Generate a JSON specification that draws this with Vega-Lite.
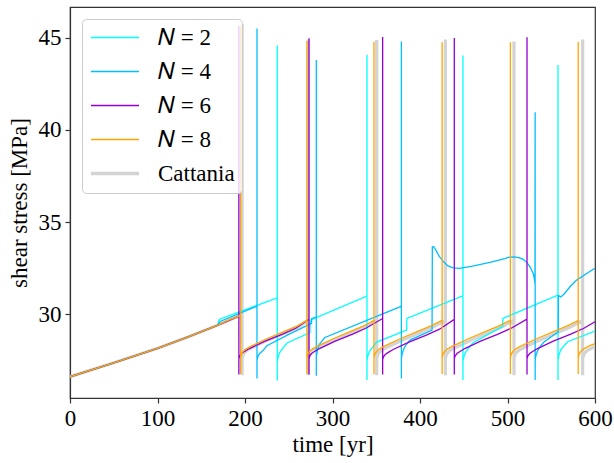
{
  "$schema": "https://vega.github.io/schema/vega-lite/v6.json",
  "width": 525,
  "height": 391,
  "autosize": {"type": "none"},
  "padding": {"left": 70, "top": 7, "right": 19, "bottom": 65},
  "config": {
    "view": {"stroke": "#333333", "strokeWidth": 1.2},
    "axis": {"domainColor": "#333333", "tickColor": "#333333", "labelFont": "Liberation Serif", "labelFontSize": 23, "titleFont": "Liberation Serif", "titleFontSize": 23, "titleFontWeight": "normal", "labelColor": "black", "titleColor": "black", "grid": false, "tickSize": 5, "domainWidth": 1.2, "tickWidth": 1.2}
  },
  "data": {"values": [
    {"s":"Cattania","t":0,"v":26.62},{"s":"Cattania","t":50,"v":27.38},{"s":"Cattania","t":100,"v":28.16},{"s":"Cattania","t":135,"v":28.78},{"s":"Cattania","t":169,"v":29.42},{"s":"Cattania","t":182,"v":29.7},{"s":"Cattania","t":196.7,"v":29.98},
    {"s":"Cattania","t":196.7,"v":45.74},{"s":"Cattania","t":196.7,"v":26.7},{"s":"Cattania","t":196.7,"v":27.6},
    {"s":"Cattania","t":197.7,"v":27.8},{"s":"Cattania","t":199.7,"v":27.95},{"s":"Cattania","t":202.7,"v":28.07},{"s":"Cattania","t":208.7,"v":28.22},{"s":"Cattania","t":226.7,"v":28.62},{"s":"Cattania","t":246.7,"v":29.02},{"s":"Cattania","t":261.7,"v":29.33},{"s":"Cattania","t":272.3,"v":29.68},
    {"s":"Cattania","t":272.3,"v":44.9},{"s":"Cattania","t":272.3,"v":26.7},{"s":"Cattania","t":272.3,"v":27.6},
    {"s":"Cattania","t":273.3,"v":27.8},{"s":"Cattania","t":275.3,"v":27.95},{"s":"Cattania","t":278.3,"v":28.07},{"s":"Cattania","t":284.3,"v":28.22},{"s":"Cattania","t":302.3,"v":28.62},{"s":"Cattania","t":322.3,"v":29.02},{"s":"Cattania","t":337.3,"v":29.33},{"s":"Cattania","t":350.5,"v":29.68},
    {"s":"Cattania","t":350.5,"v":44.87},{"s":"Cattania","t":350.5,"v":26.7},{"s":"Cattania","t":350.5,"v":27.6},
    {"s":"Cattania","t":351.5,"v":27.8},{"s":"Cattania","t":353.5,"v":27.95},{"s":"Cattania","t":356.5,"v":28.07},{"s":"Cattania","t":362.5,"v":28.22},{"s":"Cattania","t":380.5,"v":28.62},{"s":"Cattania","t":400.5,"v":29.02},{"s":"Cattania","t":415.5,"v":29.33},{"s":"Cattania","t":429,"v":29.68},
    {"s":"Cattania","t":429,"v":44.9},{"s":"Cattania","t":429,"v":26.7},{"s":"Cattania","t":429,"v":27.6},
    {"s":"Cattania","t":430,"v":27.8},{"s":"Cattania","t":432,"v":27.95},{"s":"Cattania","t":435,"v":28.07},{"s":"Cattania","t":441,"v":28.22},{"s":"Cattania","t":459,"v":28.62},{"s":"Cattania","t":479,"v":29.02},{"s":"Cattania","t":494,"v":29.33},{"s":"Cattania","t":507.4,"v":29.68},
    {"s":"Cattania","t":507.4,"v":44.79},{"s":"Cattania","t":507.4,"v":26.7},{"s":"Cattania","t":507.4,"v":27.6},
    {"s":"Cattania","t":508.4,"v":27.8},{"s":"Cattania","t":510.4,"v":27.95},{"s":"Cattania","t":513.4,"v":28.07},{"s":"Cattania","t":519.4,"v":28.22},{"s":"Cattania","t":537.4,"v":28.62},{"s":"Cattania","t":557.4,"v":29.02},{"s":"Cattania","t":572.4,"v":29.33},{"s":"Cattania","t":585.9,"v":29.68},
    {"s":"Cattania","t":585.9,"v":44.9},{"s":"Cattania","t":585.9,"v":26.7},{"s":"Cattania","t":585.9,"v":27.6},
    {"s":"Cattania","t":586.9,"v":27.8},{"s":"Cattania","t":588.9,"v":27.95},{"s":"Cattania","t":591.9,"v":28.07},{"s":"Cattania","t":597.9,"v":28.22},{"s":"Cattania","t":600,"v":28.26},

    {"s":"N = 2","t":0,"v":26.62},{"s":"N = 2","t":50,"v":27.38},{"s":"N = 2","t":100,"v":28.16},{"s":"N = 2","t":135,"v":28.78},{"s":"N = 2","t":169,"v":29.42},{"s":"N = 2","t":170,"v":29.66},{"s":"N = 2","t":171,"v":29.74},{"s":"N = 2","t":236.9,"v":30.9},
    {"s":"N = 2","t":236.9,"v":44.57},{"s":"N = 2","t":236.9,"v":26.42},{"s":"N = 2","t":236.9,"v":27.45},
    {"s":"N = 2","t":237.9,"v":27.7},{"s":"N = 2","t":239.9,"v":27.95},{"s":"N = 2","t":242.9,"v":28.15},{"s":"N = 2","t":248,"v":28.45},{"s":"N = 2","t":274.3,"v":29.02},{"s":"N = 2","t":274.5,"v":29.69},{"s":"N = 2","t":339.4,"v":30.99},
    {"s":"N = 2","t":339.4,"v":44.06},{"s":"N = 2","t":339.4,"v":26.44},{"s":"N = 2","t":339.4,"v":27.5},
    {"s":"N = 2","t":340.4,"v":27.75},{"s":"N = 2","t":342.4,"v":28.0},{"s":"N = 2","t":345.4,"v":28.2},{"s":"N = 2","t":350.5,"v":28.5},{"s":"N = 2","t":384.8,"v":29.15},{"s":"N = 2","t":385,"v":29.78},{"s":"N = 2","t":449.1,"v":31.01},
    {"s":"N = 2","t":449.1,"v":44.03},{"s":"N = 2","t":449.1,"v":26.44},{"s":"N = 2","t":449.1,"v":27.45},
    {"s":"N = 2","t":450.1,"v":27.7},{"s":"N = 2","t":452.1,"v":27.95},{"s":"N = 2","t":455.1,"v":28.15},{"s":"N = 2","t":460.2,"v":28.45},{"s":"N = 2","t":494.5,"v":29.35},{"s":"N = 2","t":494.7,"v":29.78},{"s":"N = 2","t":557.7,"v":31.05},
    {"s":"N = 2","t":557.7,"v":43.52},{"s":"N = 2","t":557.7,"v":26.44},{"s":"N = 2","t":557.7,"v":27.5},
    {"s":"N = 2","t":558.7,"v":27.8},{"s":"N = 2","t":560.7,"v":28.05},{"s":"N = 2","t":563.7,"v":28.25},{"s":"N = 2","t":568.7,"v":28.52},{"s":"N = 2","t":600,"v":29.1},

    {"s":"N = 4","t":0,"v":26.62},{"s":"N = 4","t":50,"v":27.38},{"s":"N = 4","t":100,"v":28.16},{"s":"N = 4","t":135,"v":28.78},{"s":"N = 4","t":169,"v":29.42},{"s":"N = 4","t":171.5,"v":29.62},{"s":"N = 4","t":213.7,"v":30.45},
    {"s":"N = 4","t":213.7,"v":45.5},{"s":"N = 4","t":213.7,"v":26.53},{"s":"N = 4","t":213.7,"v":27.52},
    {"s":"N = 4","t":214.7,"v":27.72},{"s":"N = 4","t":216.7,"v":27.88},{"s":"N = 4","t":219.7,"v":28.0},{"s":"N = 4","t":225,"v":28.3},{"s":"N = 4","t":250,"v":28.92},{"s":"N = 4","t":276,"v":29.51},{"s":"N = 4","t":276.3,"v":29.78},{"s":"N = 4","t":281.5,"v":29.86},
    {"s":"N = 4","t":281.5,"v":43.79},{"s":"N = 4","t":281.5,"v":26.67},{"s":"N = 4","t":281.5,"v":27.7},
    {"s":"N = 4","t":282.5,"v":28.0},{"s":"N = 4","t":284.5,"v":28.35},{"s":"N = 4","t":287,"v":28.5},{"s":"N = 4","t":291.4,"v":28.75},{"s":"N = 4","t":377,"v":30.41},{"s":"N = 4","t":378.7,"v":30.45},
    {"s":"N = 4","t":378.7,"v":44.79},{"s":"N = 4","t":378.7,"v":26.53},{"s":"N = 4","t":378.7,"v":27.6},
    {"s":"N = 4","t":379.7,"v":27.9},{"s":"N = 4","t":381.7,"v":28.15},{"s":"N = 4","t":384,"v":28.35},{"s":"N = 4","t":388.6,"v":28.61},{"s":"N = 4","t":413.8,"v":29.15},
    {"s":"N = 4","t":414.1,"v":33.66},{"s":"N = 4","t":415.5,"v":33.68},{"s":"N = 4","t":418,"v":33.5},{"s":"N = 4","t":422,"v":33.15},{"s":"N = 4","t":427,"v":32.85},{"s":"N = 4","t":432,"v":32.63},{"s":"N = 4","t":438,"v":32.52},{"s":"N = 4","t":445,"v":32.49},{"s":"N = 4","t":460,"v":32.62},{"s":"N = 4","t":480,"v":32.82},{"s":"N = 4","t":497,"v":33.02},{"s":"N = 4","t":502,"v":33.1},{"s":"N = 4","t":507,"v":33.12},{"s":"N = 4","t":513,"v":33.08},{"s":"N = 4","t":518,"v":32.98},{"s":"N = 4","t":522,"v":32.82},{"s":"N = 4","t":525.7,"v":32.58},{"s":"N = 4","t":528,"v":32.35},{"s":"N = 4","t":529.5,"v":32.2},{"s":"N = 4","t":530.6,"v":31.95},{"s":"N = 4","t":531.4,"v":31.68},
    {"s":"N = 4","t":531.6,"v":40.96},{"s":"N = 4","t":531.6,"v":26.44},{"s":"N = 4","t":531.6,"v":27.52},
    {"s":"N = 4","t":532.6,"v":27.8},{"s":"N = 4","t":534.6,"v":28.05},{"s":"N = 4","t":537,"v":28.24},{"s":"N = 4","t":541.7,"v":28.5},{"s":"N = 4","t":558,"v":29.06},
    {"s":"N = 4","t":558.2,"v":31.02},{"s":"N = 4","t":561,"v":30.95},{"s":"N = 4","t":565,"v":31.12},{"s":"N = 4","t":571.4,"v":31.5},{"s":"N = 4","t":579,"v":31.86},{"s":"N = 4","t":590,"v":32.2},{"s":"N = 4","t":600,"v":32.5},

    {"s":"N = 6","t":0,"v":26.62},{"s":"N = 6","t":50,"v":27.38},{"s":"N = 6","t":100,"v":28.16},{"s":"N = 6","t":135,"v":28.78},{"s":"N = 6","t":169,"v":29.42},{"s":"N = 6","t":182,"v":29.68},{"s":"N = 6","t":193,"v":29.91},
    {"s":"N = 6","t":193,"v":45.63},{"s":"N = 6","t":193,"v":26.74},{"s":"N = 6","t":193,"v":27.6},
    {"s":"N = 6","t":194,"v":27.75},{"s":"N = 6","t":196,"v":27.88},{"s":"N = 6","t":199,"v":27.98},{"s":"N = 6","t":205,"v":28.15},{"s":"N = 6","t":223,"v":28.55},{"s":"N = 6","t":243,"v":28.93},{"s":"N = 6","t":258,"v":29.25},{"s":"N = 6","t":273.1,"v":29.74},
    {"s":"N = 6","t":273.1,"v":44.97},{"s":"N = 6","t":273.1,"v":26.74},{"s":"N = 6","t":273.1,"v":27.6},
    {"s":"N = 6","t":274.1,"v":27.75},{"s":"N = 6","t":276.1,"v":27.88},{"s":"N = 6","t":279.1,"v":27.98},{"s":"N = 6","t":285.1,"v":28.15},{"s":"N = 6","t":303.1,"v":28.55},{"s":"N = 6","t":323.1,"v":28.93},{"s":"N = 6","t":338.1,"v":29.25},{"s":"N = 6","t":357.3,"v":29.78},
    {"s":"N = 6","t":357.3,"v":45.04},{"s":"N = 6","t":357.3,"v":26.74},{"s":"N = 6","t":357.3,"v":27.55},
    {"s":"N = 6","t":358.3,"v":27.7},{"s":"N = 6","t":360.3,"v":27.83},{"s":"N = 6","t":363.3,"v":27.93},{"s":"N = 6","t":369.3,"v":28.1},{"s":"N = 6","t":387.3,"v":28.5},{"s":"N = 6","t":407.3,"v":28.88},{"s":"N = 6","t":422.3,"v":29.2},{"s":"N = 6","t":439.2,"v":29.73},
    {"s":"N = 6","t":439.2,"v":44.98},{"s":"N = 6","t":439.2,"v":26.74},{"s":"N = 6","t":439.2,"v":27.6},
    {"s":"N = 6","t":440.2,"v":27.75},{"s":"N = 6","t":442.2,"v":27.88},{"s":"N = 6","t":445.2,"v":27.98},{"s":"N = 6","t":451.2,"v":28.15},{"s":"N = 6","t":469.2,"v":28.55},{"s":"N = 6","t":489.2,"v":28.93},{"s":"N = 6","t":504.2,"v":29.25},{"s":"N = 6","t":522.3,"v":29.75},
    {"s":"N = 6","t":522.3,"v":45.02},{"s":"N = 6","t":522.3,"v":26.74},{"s":"N = 6","t":522.3,"v":27.6},
    {"s":"N = 6","t":523.3,"v":27.75},{"s":"N = 6","t":525.3,"v":27.88},{"s":"N = 6","t":528.3,"v":27.98},{"s":"N = 6","t":534.3,"v":28.15},{"s":"N = 6","t":552.3,"v":28.55},{"s":"N = 6","t":572.3,"v":28.93},{"s":"N = 6","t":587.3,"v":29.25},{"s":"N = 6","t":600,"v":29.6},

    {"s":"N = 8","t":0,"v":26.62},{"s":"N = 8","t":50,"v":27.38},{"s":"N = 8","t":100,"v":28.16},{"s":"N = 8","t":135,"v":28.78},{"s":"N = 8","t":169,"v":29.42},{"s":"N = 8","t":182,"v":29.7},{"s":"N = 8","t":195,"v":29.95},
    {"s":"N = 8","t":195,"v":45.6},{"s":"N = 8","t":195,"v":26.77},{"s":"N = 8","t":195,"v":27.65},
    {"s":"N = 8","t":196,"v":27.85},{"s":"N = 8","t":198,"v":28.0},{"s":"N = 8","t":201,"v":28.12},{"s":"N = 8","t":207,"v":28.28},{"s":"N = 8","t":225,"v":28.68},{"s":"N = 8","t":245,"v":29.08},{"s":"N = 8","t":260,"v":29.38},{"s":"N = 8","t":270.8,"v":29.68},
    {"s":"N = 8","t":270.8,"v":44.82},{"s":"N = 8","t":270.8,"v":26.77},{"s":"N = 8","t":270.8,"v":27.65},
    {"s":"N = 8","t":271.8,"v":27.85},{"s":"N = 8","t":273.8,"v":28.0},{"s":"N = 8","t":276.8,"v":28.12},{"s":"N = 8","t":282.8,"v":28.28},{"s":"N = 8","t":300.8,"v":28.68},{"s":"N = 8","t":320.8,"v":29.08},{"s":"N = 8","t":335.8,"v":29.38},{"s":"N = 8","t":347.4,"v":29.68},
    {"s":"N = 8","t":347.4,"v":44.77},{"s":"N = 8","t":347.4,"v":26.77},{"s":"N = 8","t":347.4,"v":27.65},
    {"s":"N = 8","t":348.4,"v":27.85},{"s":"N = 8","t":350.4,"v":28.0},{"s":"N = 8","t":353.4,"v":28.12},{"s":"N = 8","t":359.4,"v":28.28},{"s":"N = 8","t":377.4,"v":28.68},{"s":"N = 8","t":397.4,"v":29.08},{"s":"N = 8","t":412.4,"v":29.38},{"s":"N = 8","t":425.3,"v":29.68},
    {"s":"N = 8","t":425.3,"v":44.75},{"s":"N = 8","t":425.3,"v":26.77},{"s":"N = 8","t":425.3,"v":27.65},
    {"s":"N = 8","t":426.3,"v":27.85},{"s":"N = 8","t":428.3,"v":28.0},{"s":"N = 8","t":431.3,"v":28.12},{"s":"N = 8","t":437.3,"v":28.28},{"s":"N = 8","t":455.3,"v":28.68},{"s":"N = 8","t":475.3,"v":29.08},{"s":"N = 8","t":490.3,"v":29.38},{"s":"N = 8","t":503.3,"v":29.68},
    {"s":"N = 8","t":503.3,"v":44.75},{"s":"N = 8","t":503.3,"v":26.77},{"s":"N = 8","t":503.3,"v":27.65},
    {"s":"N = 8","t":504.3,"v":27.85},{"s":"N = 8","t":506.3,"v":28.0},{"s":"N = 8","t":509.3,"v":28.12},{"s":"N = 8","t":515.3,"v":28.28},{"s":"N = 8","t":533.3,"v":28.68},{"s":"N = 8","t":553.3,"v":29.08},{"s":"N = 8","t":568.3,"v":29.38},{"s":"N = 8","t":580.8,"v":29.66},
    {"s":"N = 8","t":580.8,"v":44.77},{"s":"N = 8","t":580.8,"v":26.77},{"s":"N = 8","t":580.8,"v":27.65},
    {"s":"N = 8","t":581.8,"v":27.85},{"s":"N = 8","t":583.8,"v":28.0},{"s":"N = 8","t":586.8,"v":28.12},{"s":"N = 8","t":592.8,"v":28.28},{"s":"N = 8","t":600,"v":28.42}
  ]},
  "encoding": {
    "x": {"field": "t", "type": "quantitative", "scale": {"domain": [0, 600], "nice": false, "zero": false}, "axis": {"values": [0, 100, 200, 300, 400, 500, 600], "title": "time [yr]", "labelPadding": 4, "titlePadding": 3, "labelFlush": false}},
    "y": {"field": "v", "type": "quantitative", "scale": {"domain": [25.47, 46.66], "nice": false, "zero": false}, "axis": {"values": [30, 35, 40, 45], "title": "shear stress [MPa]", "labelPadding": 4, "titlePadding": 7}},
    "color": {"field": "s", "type": "nominal", "scale": {"domain": ["N = 2", "N = 4", "N = 6", "N = 8", "Cattania"], "range": ["#00ffff", "#00bfff", "#9400d3", "#ffa500", "#d3d3d3"]},
      "legend": {"orient": "none", "legendX": 12, "legendY": 12, "title": null, "symbolType": "stroke", "symbolSize": 100, "labelFont": "Liberation Serif", "labelFontSize": 23, "labelColor": "black", "labelOffset": 46, "rowPadding": 10, "padding": 7, "fillColor": "rgba(255,255,255,0.8)", "strokeColor": "#cccccc", "cornerRadius": 4, "labelLimit": 300, "labelExpr": "datum.label === 'Cattania' ? 'Cattania\u2002\u2002' : replace(datum.label, 'N', '𝑁')",
        "encode": {"symbols": {"update": {"size": {"value": 2304}, "x": {"value": 26}, "strokeWidth": {"signal": "datum.value === 'Cattania' ? 3.5 : 1.5"}}}}}},
    "order": {"value": null}
  },
  "layer": [
    {"transform": [{"filter": "datum.s === 'Cattania'"}], "mark": {"type": "line", "clip": true, "strokeCap": "butt", "strokeWidth": 3.2}},
    {"transform": [{"filter": "datum.s !== 'Cattania'"}], "mark": {"type": "line", "clip": true, "strokeCap": "butt", "strokeWidth": 1.3}}
  ]
}
